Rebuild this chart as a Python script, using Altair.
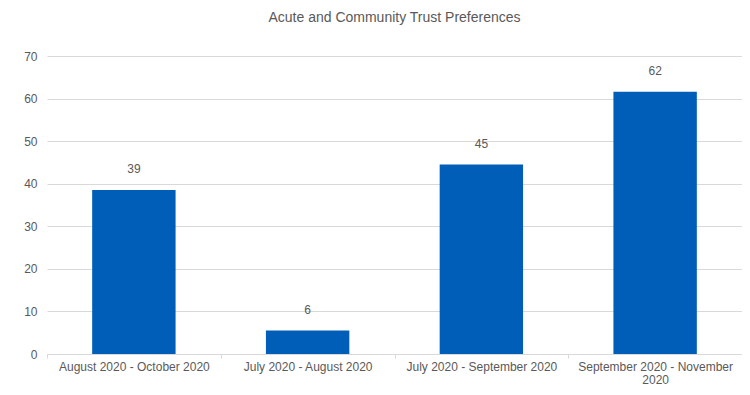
import json
import altair as alt
import pandas as pd

categories = [
    "August 2020 - October 2020",
    "July 2020 - August 2020",
    "July 2020 - September 2020",
    "September 2020 - November 2020",
]
values = [38.5, 5.5, 44.5, 61.6]
value_labels = ["39", "6", "45", "62"]
wrapped = {"September 2020 - November 2020": ["September 2020 - November", "2020"]}

df = pd.DataFrame({"period": categories, "value": values, "label": value_labels})

FONT = "Liberation Sans Narrow, Liberation Sans, Arial, sans-serif"
TXT = "#595959"

expr = "datum.label"
for k, v in wrapped.items():
    expr = f"datum.label == {json.dumps(k)} ? {json.dumps(v)} : " + expr

x = alt.X(
    "period:N",
    sort=categories,
    scale=alt.Scale(paddingInner=0, paddingOuter=0),
    axis=alt.Axis(
        title=None,
        labelAngle=0,
        labelFont=FONT,
        labelFontSize=12,
        labelColor=TXT,
        labelPadding=3,
        labelExpr=expr,
        labelLineHeight=13,
        domainColor="#d9d9d9",
        tickColor="#d9d9d9",
        tickSize=4,
        tickBand="extent",
        grid=False,
    ),
)

y = alt.Y(
    "value:Q",
    scale=alt.Scale(domain=[0, 70], nice=False),
    axis=alt.Axis(
        title=None,
        values=[0, 10, 20, 30, 40, 50, 60, 70],
        labelFont=FONT,
        labelFontSize=12,
        labelColor=TXT,
        labelPadding=10,
        domain=False,
        ticks=False,
        gridColor="#d9d9d9",
        gridWidth=1,
    ),
)

bars = alt.Chart(df).mark_bar(color="#005EB8", width={"band": 0.48}).encode(x=x, y=y)
texts = alt.Chart(df).mark_text(
    dy=-17, baseline="alphabetic", font=FONT, fontSize=12, color=TXT
).encode(x=x, y=y, text="label:N")

chart = (
    alt.layer(bars, texts)
    .properties(
        width=695,
        height=298,
        autosize=alt.AutoSizeParams(type="none"),
        padding={"left": 39, "top": 48, "right": 0, "bottom": 33},
        title=alt.TitleParams(
            "Acute and Community Trust Preferences",
            font=FONT,
            fontSize=14,
            fontWeight="normal",
            color=TXT,
            offset=25,
            anchor="middle",
        ),
    )
    .configure_view(stroke=None)
)

chart.save("out.html", embed_options={"renderer": "svg", "actions": False})
